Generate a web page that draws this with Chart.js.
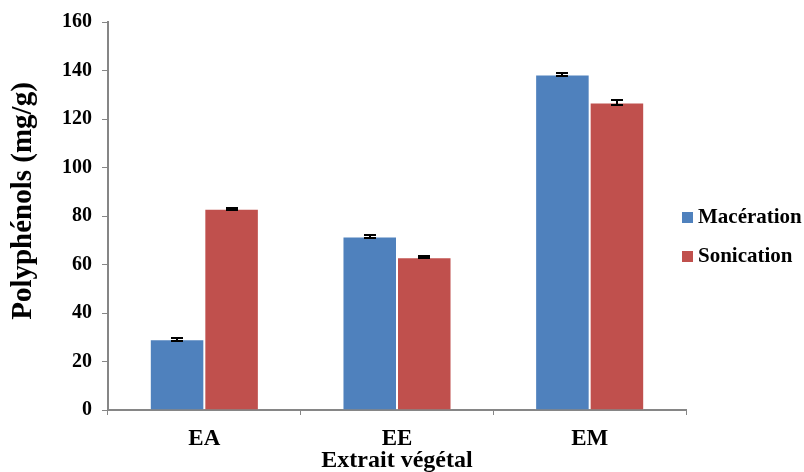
<!DOCTYPE html>
<html><head><meta charset="utf-8">
<script src="https://cdn.jsdelivr.net/npm/chart.js@4/dist/chart.umd.min.js"></script>
<style>html,body{margin:0;padding:0;background:#fff}#wrap{width:804px;height:472px}</style>
</head><body><div id="wrap"><canvas id="c" width="804" height="472"></canvas></div>
<script>
const categories = ["EA", "EE", "EM"];
const seriesNames = ["Macération", "Sonication"];
const maceration = [29.2, 71.5, 138.3];
const sonication = [83.0, 63.0, 126.8];
const macerationErr = [0.6, 0.5, 0.5];
const sonicationErr = [0.5, 0.5, 1.1];
const yTicks = [0, 20, 40, 60, 80, 100, 120, 140, 160];
const xTitle = "Extrait végétal";
const yTitle = "Polyphénols (mg/g)";

const FONT = "'Liberation Serif', 'Times New Roman', serif";
const GREY = "#868686";

const errorBars = {
  id: "errorBars",
  afterDatasetsDraw(chart) {
    const ctx = chart.ctx, y = chart.scales.y;
    ctx.save();
    ctx.strokeStyle = "#000"; ctx.lineWidth = 2;
    chart.data.datasets.forEach((ds, di) => {
      const meta = chart.getDatasetMeta(di);
      meta.data.forEach((bar, i) => {
        const v = ds.data[i], e = ds.err[i];
        const yt = Math.round(y.getPixelForValue(v + e)), yb = Math.round(y.getPixelForValue(v - e));
        const x = Math.round(bar.x), w = 6;
        ctx.beginPath();
        ctx.moveTo(x, yt); ctx.lineTo(x, yb);
        ctx.moveTo(x - w, yt); ctx.lineTo(x + w, yt);
        ctx.moveTo(x - w, yb); ctx.lineTo(x + w, yb);
        ctx.stroke();
      });
    });
    ctx.restore();
  }
};

const sideLegend = {
  id: "sideLegend",
  afterDraw(chart) {
    const ctx = chart.ctx, a = chart.chartArea;
    ctx.save();
    ctx.font = "bold 21px " + FONT;
    ctx.textBaseline = "middle";
    ctx.textAlign = "left";
    const x0 = a.right - 4;
    const ys = [217, 256];
    chart.data.datasets.forEach((ds, i) => {
      ctx.fillStyle = ds.backgroundColor;
      ctx.fillRect(x0, ys[i] - 5, 11, 11);
      ctx.fillStyle = "#000";
      ctx.fillText(ds.label, x0 + 16, ys[i] + 1);
    });
    ctx.restore();
  }
};

const yAxisTitle = {
  id: "yAxisTitle",
  afterDraw(chart) {
    const ctx = chart.ctx;
    ctx.save();
    ctx.font = "bold 29px " + FONT;
    ctx.fillStyle = "#000";
    ctx.textAlign = "center";
    ctx.textBaseline = "middle";
    ctx.translate(24, 201);
    ctx.rotate(-Math.PI / 2);
    ctx.fillText(yTitle, 0, 0);
    ctx.restore();
  }
};

new Chart(document.getElementById("c"), {
  type: "bar",
  data: {
    labels: categories,
    datasets: [
      { label: seriesNames[0], data: maceration, err: macerationErr, backgroundColor: "#4F81BD", borderColor: "rgba(255,255,255,0.35)", borderWidth: 1 },
      { label: seriesNames[1], data: sonication, err: sonicationErr, backgroundColor: "#C0504D", borderColor: "rgba(255,255,255,0.35)", borderWidth: 1 }
    ]
  },
  options: {
    responsive: false,
    animation: false,
    layout: { padding: { top: 22, right: 118, left: 0, bottom: 0 } },
    datasets: { bar: { categoryPercentage: 0.566, barPercentage: 1.0 } },
    plugins: { legend: { display: false }, tooltip: { enabled: false } },
    scales: {
      x: {
        grid: { display: true, drawOnChartArea: false, offset: true, color: GREY, tickLength: 5, lineWidth: 1 },
        border: { display: true, color: GREY, width: 2 },
        ticks: { color: "#000", font: { family: FONT, size: 23, weight: "bold" }, padding: 10 },
        title: { display: true, text: xTitle, color: "#000", font: { family: FONT, size: 24, weight: "bold", lineHeight: 1.0 }, padding: { top: 0, bottom: -1 } },
        afterFit(s) { s.height = 62; }
      },
      y: {
        min: 0, max: 160,
        afterBuildTicks(s) { s.ticks = yTicks.map(v => ({ value: v })); },
        grid: { display: true, drawOnChartArea: false, color: GREY, tickLength: 6, lineWidth: 1 },
        border: { display: true, color: GREY, width: 2 },
        ticks: { color: "#000", font: { family: FONT, size: 20, weight: "bold" }, padding: 10 },
        title: { display: false, text: yTitle },
        afterFit(s) { s.width = 108; }
      }
    }
  },
  plugins: [errorBars, sideLegend, yAxisTitle]
});
</script>
</body></html>
